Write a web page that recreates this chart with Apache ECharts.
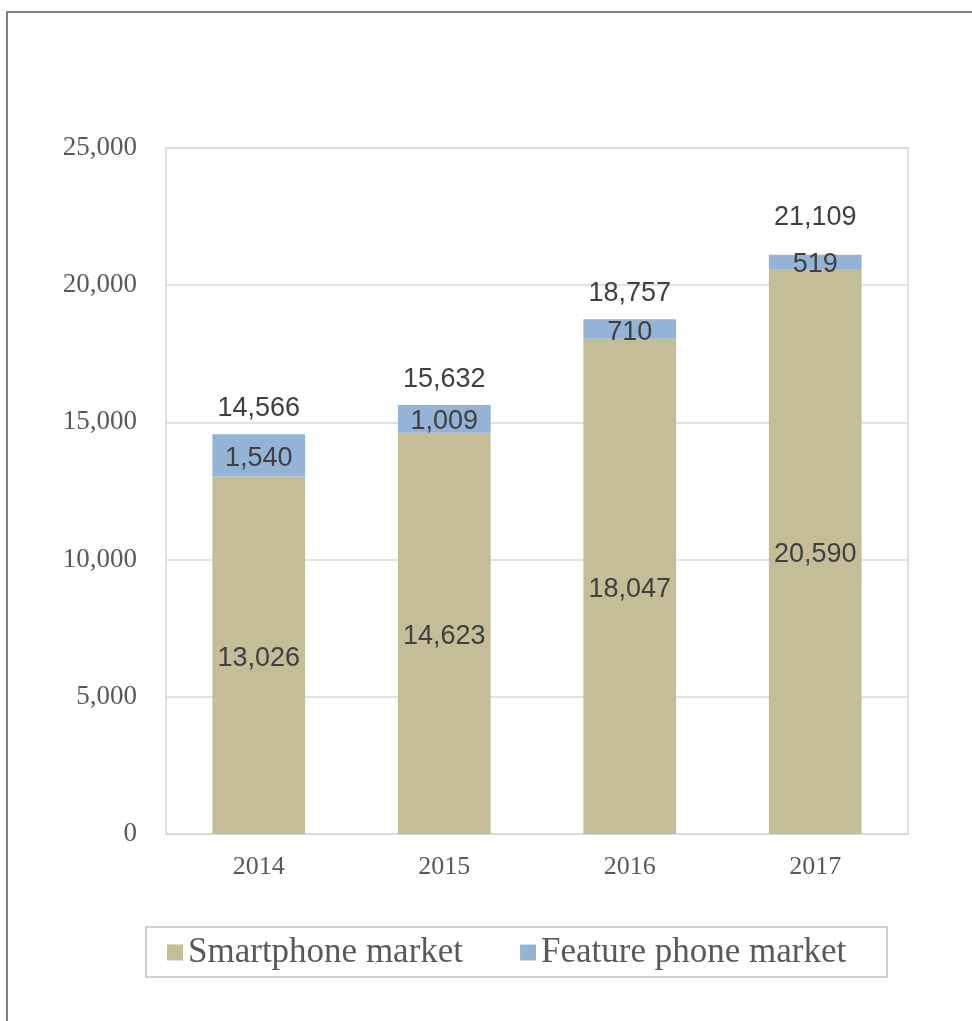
<!DOCTYPE html>
<html>
<head>
<meta charset="utf-8">
<script src="https://cdn.jsdelivr.net/npm/echarts@6/dist/echarts.min.js"></script>
<style>
html,body{margin:0;padding:0;background:#fff;}
#chart{width:972px;height:1021px;}
</style>
</head>
<body>
<div id="chart"></div>
<script>
const categories = ['2014', '2015', '2016', '2017'];
const smartphone = [13026, 14623, 18047, 20590];
const featurePhone = [1540, 1009, 710, 519];
const totals = [14566, 15632, 18757, 21109];
const yTicks = [0, 5000, 10000, 15000, 20000, 25000];

const fmt = v => Number(v).toLocaleString('en-US');
const chart = echarts.init(document.getElementById('chart'));
const labelFont = { fontFamily: 'Liberation Sans', fontSize: 27, color: '#404040' };

const totalData = totals.map((v, i) => i === totals.length - 1
  ? { value: v, label: { distance: 24 } } : v);

chart.setOption({
  animation: false,
  backgroundColor: '#fff',
  graphic: [
    { type: 'polyline', shape: { points: [[7, 1040], [7, 12], [990, 12]] },
      style: { stroke: '#7f7f7f', lineWidth: 2, fill: null } },
    { type: 'rect', shape: { x: 146, y: 927, width: 741, height: 50 },
      style: { stroke: '#bfbfbf', lineWidth: 1.5, fill: null } }
  ],
  legend: {
    data: ['Smartphone market', 'Feature phone market'],
    left: 162, top: 930,
    itemWidth: 16, itemHeight: 16, itemGap: 57, itemTextGap: 8,
    icon: 'rect',
    textStyle: { fontFamily: 'Liberation Serif', fontSize: 35, color: '#595959' }
  },
  grid: { left: 166, right: 64, top: 148, bottom: 187, show: true,
    borderColor: '#d9d9d9', borderWidth: 1.5, containLabel: false },
  xAxis: {
    type: 'category', data: categories,
    axisLine: { show: true, lineStyle: { color: '#d9d9d9', width: 1.5 } },
    axisTick: { show: false },
    axisLabel: { margin: 20, fontFamily: 'Liberation Serif', fontSize: 26, color: '#595959' }
  },
  yAxis: {
    type: 'value', min: yTicks[0], max: yTicks[yTicks.length - 1], interval: yTicks[1] - yTicks[0],
    axisLine: { show: false }, axisTick: { show: false },
    splitLine: { lineStyle: { color: '#d9d9d9', width: 1.5 } },
    axisLabel: { margin: 29, fontFamily: 'Liberation Serif', fontSize: 27, color: '#595959', formatter: fmt }
  },
  series: [
    { name: 'Smartphone market', type: 'bar', stack: 'total', data: smartphone,
      barWidth: '50%', itemStyle: { color: '#C4BD97' },
      label: Object.assign({ show: true, position: 'inside', offset: [0, 3], formatter: p => fmt(p.value) }, labelFont) },
    { name: 'Feature phone market', type: 'bar', stack: 'total', data: featurePhone,
      barWidth: '50%', itemStyle: { color: '#95B3D7' },
      label: Object.assign({ show: true, position: 'inside', offset: [0, 3], formatter: p => fmt(p.value) }, labelFont) },
    { name: 'Total', type: 'scatter', data: totalData, symbolSize: 0, silent: true,
      itemStyle: { opacity: 1 },
      label: Object.assign({ show: true, position: 'top', distance: 12, formatter: p => fmt(p.value) }, labelFont) }
  ]
});
</script>
</body>
</html>
